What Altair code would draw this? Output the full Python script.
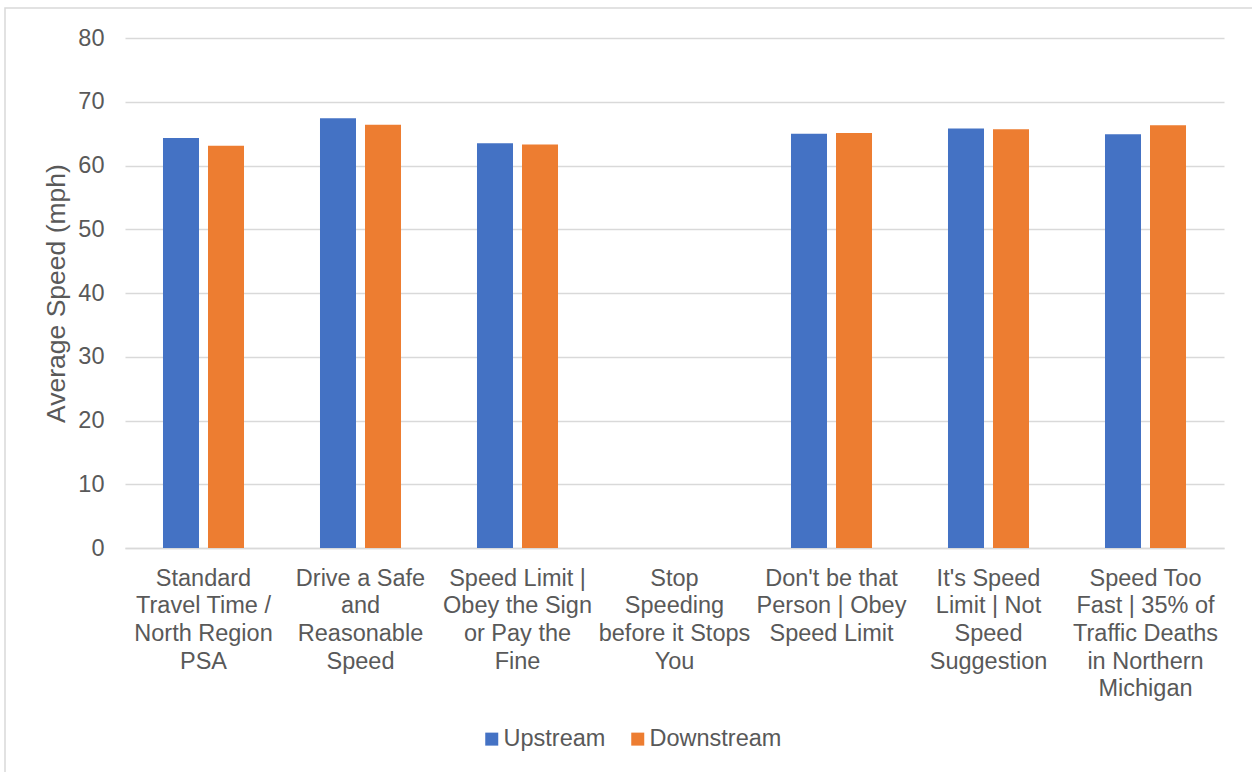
import altair as alt
import pandas as pd

# Campaign message categories (line breaks are where the axis labels wrap)
categories = [
    "Standard\nTravel Time /\nNorth Region\nPSA",
    "Drive a Safe\nand\nReasonable\nSpeed",
    "Speed Limit |\nObey the Sign\nor Pay the\nFine",
    "Stop\nSpeeding\nbefore it Stops\nYou",
    "Don't be that\nPerson | Obey\nSpeed Limit",
    "It's Speed\nLimit | Not\nSpeed\nSuggestion",
    "Speed Too\nFast | 35% of\nTraffic Deaths\nin Northern\nMichigan",
]
series = ["Upstream", "Downstream"]
upstream = [64.3, 67.4, 63.5, None, 65.0, 65.8, 64.9]
downstream = [63.1, 66.4, 63.3, None, 65.1, 65.7, 66.3]
colors = ["#4472C4", "#ED7D31"]
y_ticks = [0, 10, 20, 30, 40, 50, 60, 70, 80]

rows = []
for cat, up, down in zip(categories, upstream, downstream):
    for name, val in zip(series, [up, down]):
        if val is not None:
            rows.append({"category": cat, "series": name, "speed": val})
df = pd.DataFrame(rows)

FONT = "Liberation Sans"
TEXT = "#595959"
GRID = "#D9D9D9"
W, H = 1099, 510
LEFT, TOP = 125, 38

bars = alt.Chart(df).mark_bar().encode(
    x=alt.X(
        "category:N",
        sort=categories,
        scale=alt.Scale(domain=categories, paddingInner=0.484, paddingOuter=0.242),
        axis=alt.Axis(
            title=None,
            labelAngle=0,
            labelExpr="split(datum.label, '\\n')",
            labelLineHeight=27.7,
            labelPadding=18,
            labelFontSize=23.5,
            labelColor=TEXT,
            labelFont=FONT,
            labelBaseline="top",
            ticks=False,
            domainColor=GRID,
            domainWidth=1.5,
            labelLimit=300,
        ),
    ),
    xOffset=alt.XOffset(
        "series:N",
        sort=series,
        scale=alt.Scale(domain=series, paddingInner=0.2, paddingOuter=0),
    ),
    y=alt.Y(
        "speed:Q",
        scale=alt.Scale(domain=[0, 80], nice=False),
        axis=alt.Axis(
            title="Average Speed (mph)",
            values=y_ticks,
            ticks=False,
            domain=False,
            gridColor=GRID,
            gridWidth=1.3,
            labelFontSize=23.5,
            labelColor=TEXT,
            labelFont=FONT,
            labelPadding=21,
            titleFontSize=26.5,
            titleColor=TEXT,
            titleFont=FONT,
            titleFontWeight="normal",
            titleX=-69,
            titleY=293 - TOP,
            titleAngle=-90,
            titleAlign="center",
            titleBaseline="middle",
        ),
    ),
    color=alt.Color(
        "series:N",
        sort=series,
        scale=alt.Scale(domain=series, range=colors),
        legend=alt.Legend(
            title=None,
            orient="none",
            direction="horizontal",
            legendX=355,
            legendY=689,
            symbolType="square",
            symbolSize=169,
            symbolStrokeWidth=0,
            labelFontSize=23.5,
            labelFont=FONT,
            labelColor=TEXT,
            labelOffset=0,
            columnPadding=20,
            labelLimit=300,
        ),
    ),
)

# Thin border drawn around the whole chart area
frame = alt.Chart(pd.DataFrame({"k": [0]})).mark_rect(
    fill=None, stroke=GRID, strokeWidth=1.5
).encode(
    x=alt.value(5 - LEFT),
    x2=alt.value(1262 - LEFT),
    y=alt.value(8 - TOP),
    y2=alt.value(782 - TOP),
)

chart = alt.layer(frame, bars).properties(
    width=W,
    height=H,
    autosize=alt.AutoSizeParams(type="none"),
    padding={"left": LEFT, "top": TOP, "right": 1252 - LEFT - W, "bottom": 772 - TOP - H},
    background="white",
).configure_view(stroke=None)

chart.save("out.html", embed_options={"renderer": "svg", "actions": False})
